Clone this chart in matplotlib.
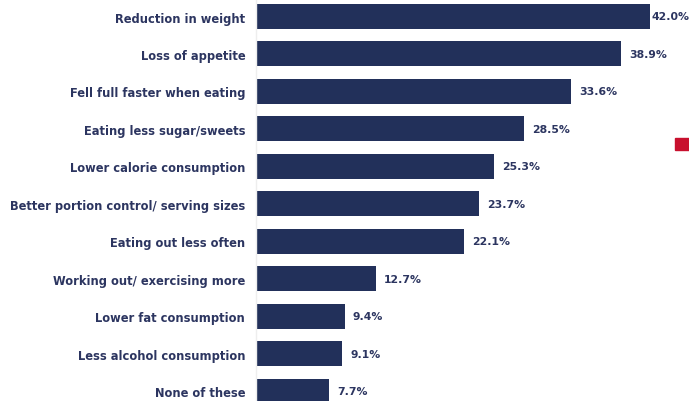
import matplotlib.pyplot as plt

categories = [
    "Reduction in weight",
    "Loss of appetite",
    "Fell full faster when eating",
    "Eating less sugar/sweets",
    "Lower calorie consumption",
    "Better portion control/ serving sizes",
    "Eating out less often",
    "Working out/ exercising more",
    "Lower fat consumption",
    "Less alcohol consumption",
    "None of these",
]
values = [42.0, 38.9, 33.6, 28.5, 25.3, 23.7, 22.1, 12.7, 9.4, 9.1, 7.7]

NAVY = "#22305a"
TEXT = "#2c3560"

plt.rcParams['font.family'] = ['DejaVu Sans']

fig = plt.figure(figsize=(6.89, 4.02), dpi=100)
ax = fig.add_axes([257 / 689, 0, 432 / 689, 1])

# spines first: moving a spine resets the tick labels
for side in ['top', 'right', 'bottom']:
    ax.spines[side].set_visible(False)
ax.spines['left'].set_position(('outward', 1))
ax.spines['left'].set_color('#eeeeee')
ax.spines['left'].set_linewidth(1)

pos = list(range(len(categories)))
ax.barh(pos, values, height=0.667, color=NAVY)

# axis geometry: 37.45 px per row, first row centred 17.5 px from the top
ax.set_ylim((402 - 17.5) / 37.45, -17.5 / 37.45)
ax.set_xlim(0, 432 / 9.36)

ax.set_yticks(pos)
ax.set_yticklabels(categories, fontsize=8.3, fontweight='bold', color=TEXT)
ax.tick_params(axis='y', length=0, pad=7.5)
ax.set_xticks([])

for p, v in zip(pos, values):
    # keep the longest label inside the frame
    pad = 8 if v < 40 else 1
    ax.annotate(f"{v:.1f}%", (v, p), xytext=(pad * 0.72, 0), textcoords='offset points',
                va='center', ha='left', fontsize=7.8, fontweight='bold', color=TEXT)

# small red marker on the right edge
fig.patches.append(plt.Rectangle((675 / 689, 1 - 151 / 402), 14 / 689, 12 / 402,
                                 transform=fig.transFigure, color='#c8102e'))

fig.savefig("out.png", dpi=100)
